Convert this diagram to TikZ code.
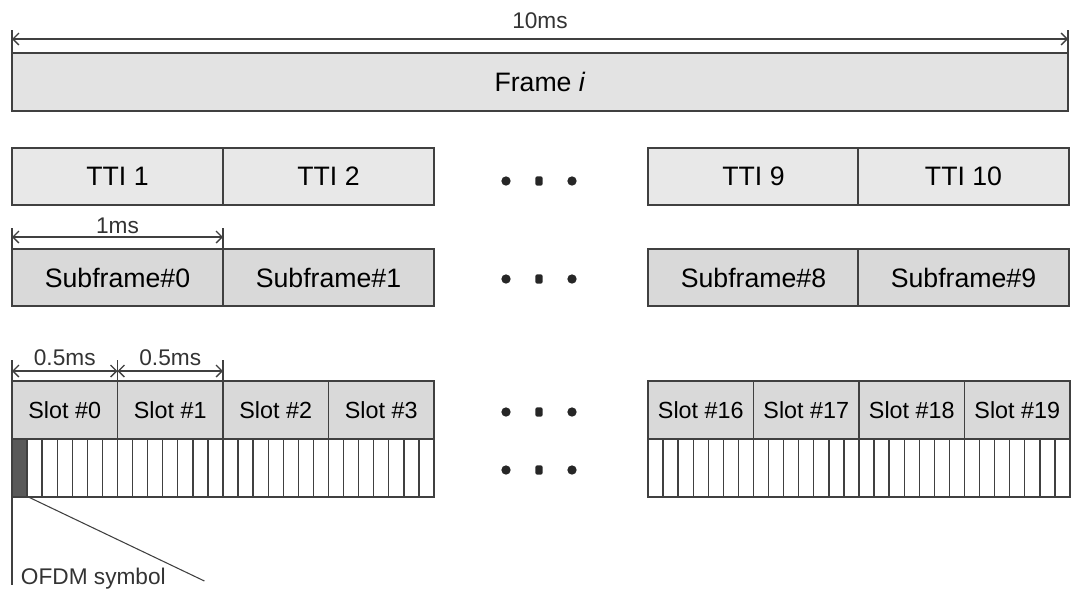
\documentclass[tikz,border=0pt]{standalone}
\usepackage{fontspec}
\setmainfont{Liberation Sans}
\usetikzlibrary{arrows.meta,positioning}

\begin{document}
\begin{tikzpicture}[
        x=0.75pt, y=-0.75pt,
        font=\fontsize{20}{24}\selectfont,
        % common look of every box
        base_box/.style={draw=black!75, line width=1pt, inner sep=0pt, outer sep=0pt, anchor=north west, align=center},
        frame_box/.style={base_box, fill=black!11, minimum width=792pt, minimum height=43.5pt},
        tti_box/.style={base_box, fill=black!9, minimum width=158.25pt, minimum height=42.75pt},
        sub_box/.style={base_box, fill=black!15, minimum width=158.25pt, minimum height=42.75pt},
        slot_box/.style={base_box, fill=black!15, minimum width=79.125pt, minimum height=43.5pt, font=\fontsize{17.5}{21}\selectfont},
        sym_cell/.style={base_box, fill=white, minimum width=11.304pt, minimum height=43.5pt},
        dim_arrow/.style={{Straight Barb[length=4.5pt,width=9pt]}-{Straight Barb[length=4.5pt,width=9pt]}, draw=black!75, line width=1pt},
        tick_line/.style={draw=black!75, line width=1pt},
        dim_label/.style={font=\fontsize{17}{20}\selectfont, text=black!80, inner sep=2pt},
        dot_mark/.style={circle, fill=black!85, inner sep=0pt, minimum size=7pt}
    ]
    \useasboundingbox (0,0) rectangle (1071,593);

    % --- frame ---
    \node[frame_box] (frame) at (12,53) {Frame \textit{i}};

    % --- TTIs and subframes ---
    \foreach \n/\x in {1/12, 2/223, 9/648, 10/858}
        \node[tti_box] (tti\n) at (\x,148) {TTI \n};
    \foreach \n/\x in {0/12, 1/223, 8/648, 9/858}
        \node[sub_box] (sub\n) at (\x,249) {Subframe\#\n};

    % --- slots ---
    \foreach \n [count=\i from 0] in {0,1,2,3}
        \node[slot_box] (slot\n) at (12+105.5*\i,381) {Slot \#\n};
    \foreach \n [count=\i from 0] in {16,17,18,19}
        \node[slot_box] (slot\n) at (648+105.5*\i,381) {Slot \#\n};

    % --- OFDM symbols (7 per slot) ---
    \foreach \k in {0,...,27} {
        \node[sym_cell] (sym_l\k) at (12+15.0714*\k,439) {};
        \node[sym_cell] (sym_r\k) at (648+15.0714*\k,439) {};
    }
    \node[sym_cell, fill=black!65] (ofdm_sym) at (12,439) {};

    % --- continuation dots ---
    \foreach \y in {181,279,412,470} {
        \node[dot_mark] (dot_a\y) at (506,\y) {};
        \node[dot_mark, rectangle, rounded corners=1.5pt, minimum width=5.5pt, minimum height=7pt] (dot_b\y) at (539,\y) {};
        \node[dot_mark] (dot_c\y) at (572,\y) {};
    }

    % --- 10ms ---
    \draw[tick_line] (frame.north west) -- ++(0,-23);
    \draw[tick_line] (frame.north east) -- ++(0,-23);
    \draw[dim_arrow] ([yshift=10.5pt]frame.north west) -- node[dim_label, above=5pt] {10ms} ([yshift=10.5pt]frame.north east);

    % --- 1ms ---
    \draw[tick_line] (sub0.north west) -- ++(0,-21);
    \draw[tick_line] (sub0.north east) -- ++(0,-21);
    \draw[dim_arrow] ([yshift=9pt]sub0.north west) -- node[dim_label, above=0pt] {1ms} ([yshift=9pt]sub0.north east);

    % --- 0.5ms ---
    \foreach \s in {slot0,slot1} {
        \draw[tick_line] (\s.north west) -- ++(0,-21);
        \draw[tick_line] (\s.north east) -- ++(0,-21);
        \draw[dim_arrow] ([yshift=7.5pt]\s.north west) -- node[dim_label, above=1.5pt] {0.5ms} ([yshift=7.5pt]\s.north east);
    }

    % --- OFDM symbol callout ---
    \node[dim_label, anchor=west] (ofdm_label) at (18,579) {OFDM symbol};
    \draw[tick_line] (ofdm_sym.south west) -- ++(0,88);
    \draw[tick_line, line width=0.8pt] ([xshift=1pt]ofdm_sym.south east) -- ++(176,84);

\end{tikzpicture}
\end{document}
